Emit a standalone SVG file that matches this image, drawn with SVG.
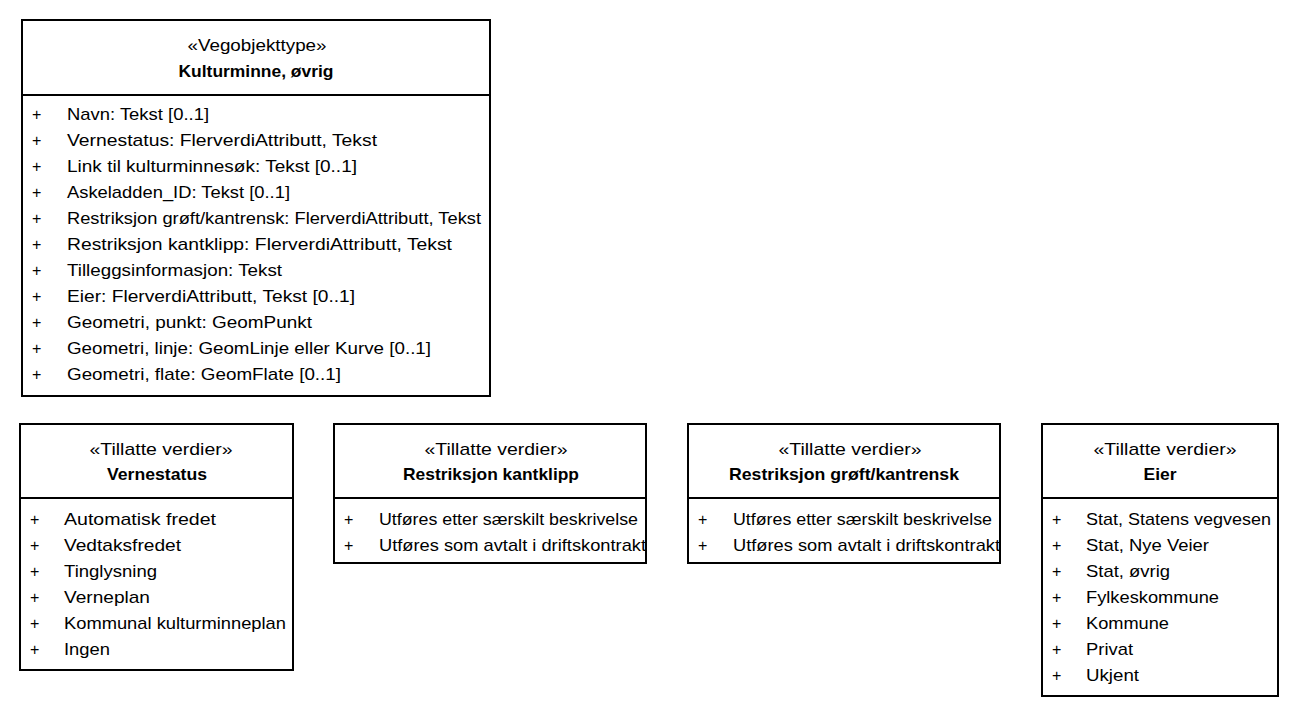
<svg xmlns="http://www.w3.org/2000/svg" width="1300" height="718" viewBox="0 0 1300 718">
<style>
rect.box{fill:#fff;stroke:#000;stroke-width:2}
line.div{stroke:#000;stroke-width:2}
text{font-family:"Liberation Sans",Arial,sans-serif;font-size:17px;fill:#000}
.p{font-size:16px}
.c{text-anchor:middle}
.b{font-weight:bold}
</style>
<rect width="1300" height="718" fill="#fff"/>
<g id="kulturminne">
<rect class="box" x="22" y="20" width="468" height="376"/>
<line class="div" x1="22" y1="95" x2="490" y2="95"/>
<text class="c" x="257" y="51" textLength="139" lengthAdjust="spacingAndGlyphs">«Vegobjekttype»</text>
<text class="c b" x="256" y="77" textLength="155" lengthAdjust="spacingAndGlyphs">Kulturminne, øvrig</text>
<text class="p" x="32" y="120">+</text><text x="67" y="120" textLength="142" lengthAdjust="spacingAndGlyphs">Navn: Tekst [0..1]</text>
<text class="p" x="32" y="146">+</text><text x="67" y="146" textLength="310" lengthAdjust="spacingAndGlyphs">Vernestatus: FlerverdiAttributt, Tekst</text>
<text class="p" x="32" y="172">+</text><text x="67" y="172" textLength="290" lengthAdjust="spacingAndGlyphs">Link til kulturminnesøk: Tekst [0..1]</text>
<text class="p" x="32" y="198">+</text><text x="67" y="198" textLength="223" lengthAdjust="spacingAndGlyphs">Askeladden_ID: Tekst [0..1]</text>
<text class="p" x="32" y="224">+</text><text x="67" y="224" textLength="414" lengthAdjust="spacingAndGlyphs">Restriksjon grøft/kantrensk: FlerverdiAttributt, Tekst</text>
<text class="p" x="32" y="250">+</text><text x="67" y="250" textLength="385" lengthAdjust="spacingAndGlyphs">Restriksjon kantklipp: FlerverdiAttributt, Tekst</text>
<text class="p" x="32" y="276">+</text><text x="67" y="276" textLength="215" lengthAdjust="spacingAndGlyphs">Tilleggsinformasjon: Tekst</text>
<text class="p" x="32" y="302">+</text><text x="67" y="302" textLength="288" lengthAdjust="spacingAndGlyphs">Eier: FlerverdiAttributt, Tekst [0..1]</text>
<text class="p" x="32" y="328">+</text><text x="67" y="328" textLength="245" lengthAdjust="spacingAndGlyphs">Geometri, punkt: GeomPunkt</text>
<text class="p" x="32" y="354">+</text><text x="67" y="354" textLength="364" lengthAdjust="spacingAndGlyphs">Geometri, linje: GeomLinje eller Kurve [0..1]</text>
<text class="p" x="32" y="380">+</text><text x="67" y="380" textLength="274" lengthAdjust="spacingAndGlyphs">Geometri, flate: GeomFlate [0..1]</text>
</g>
<g id="vernestatus">
<rect class="box" x="20" y="424" width="273" height="246"/>
<line class="div" x1="20" y1="498" x2="293" y2="498"/>
<text class="c" x="161" y="455" textLength="143" lengthAdjust="spacingAndGlyphs">«Tillatte verdier»</text>
<text class="c b" x="157" y="480" textLength="100" lengthAdjust="spacingAndGlyphs">Vernestatus</text>
<text class="p" x="30" y="525">+</text><text x="64" y="525" textLength="152" lengthAdjust="spacingAndGlyphs">Automatisk fredet</text>
<text class="p" x="30" y="551">+</text><text x="64" y="551" textLength="117" lengthAdjust="spacingAndGlyphs">Vedtaksfredet</text>
<text class="p" x="30" y="577">+</text><text x="64" y="577" textLength="93" lengthAdjust="spacingAndGlyphs">Tinglysning</text>
<text class="p" x="30" y="603">+</text><text x="64" y="603" textLength="86" lengthAdjust="spacingAndGlyphs">Verneplan</text>
<text class="p" x="30" y="629">+</text><text x="64" y="629" textLength="222" lengthAdjust="spacingAndGlyphs">Kommunal kulturminneplan</text>
<text class="p" x="30" y="655">+</text><text x="64" y="655" textLength="46" lengthAdjust="spacingAndGlyphs">Ingen</text>
</g>
<g id="kantklipp">
<rect class="box" x="334" y="424" width="312" height="139"/>
<line class="div" x1="334" y1="498" x2="646" y2="498"/>
<text class="c" x="496" y="455" textLength="143" lengthAdjust="spacingAndGlyphs">«Tillatte verdier»</text>
<text class="c b" x="491" y="480" textLength="176" lengthAdjust="spacingAndGlyphs">Restriksjon kantklipp</text>
<text class="p" x="344" y="525">+</text><text x="379" y="525" textLength="259" lengthAdjust="spacingAndGlyphs">Utføres etter særskilt beskrivelse</text>
<text class="p" x="344" y="551">+</text><text x="379" y="551" textLength="267" lengthAdjust="spacingAndGlyphs">Utføres som avtalt i driftskontrakt</text>
</g>
<g id="groft">
<rect class="box" x="688" y="424" width="312" height="139"/>
<line class="div" x1="688" y1="498" x2="1000" y2="498"/>
<text class="c" x="850" y="455" textLength="143" lengthAdjust="spacingAndGlyphs">«Tillatte verdier»</text>
<text class="c b" x="844" y="480" textLength="230" lengthAdjust="spacingAndGlyphs">Restriksjon grøft/kantrensk</text>
<text class="p" x="698" y="525">+</text><text x="733" y="525" textLength="259" lengthAdjust="spacingAndGlyphs">Utføres etter særskilt beskrivelse</text>
<text class="p" x="698" y="551">+</text><text x="733" y="551" textLength="267" lengthAdjust="spacingAndGlyphs">Utføres som avtalt i driftskontrakt</text>
</g>
<g id="eier">
<rect class="box" x="1042" y="424" width="236" height="272"/>
<line class="div" x1="1042" y1="498" x2="1278" y2="498"/>
<text class="c" x="1165" y="455" textLength="143" lengthAdjust="spacingAndGlyphs">«Tillatte verdier»</text>
<text class="c b" x="1160" y="480" textLength="33" lengthAdjust="spacingAndGlyphs">Eier</text>
<text class="p" x="1052" y="525">+</text><text x="1086" y="525" textLength="185" lengthAdjust="spacingAndGlyphs">Stat, Statens vegvesen</text>
<text class="p" x="1052" y="551">+</text><text x="1086" y="551" textLength="123" lengthAdjust="spacingAndGlyphs">Stat, Nye Veier</text>
<text class="p" x="1052" y="577">+</text><text x="1086" y="577" textLength="84" lengthAdjust="spacingAndGlyphs">Stat, øvrig</text>
<text class="p" x="1052" y="603">+</text><text x="1086" y="603" textLength="133" lengthAdjust="spacingAndGlyphs">Fylkeskommune</text>
<text class="p" x="1052" y="629">+</text><text x="1086" y="629" textLength="83" lengthAdjust="spacingAndGlyphs">Kommune</text>
<text class="p" x="1052" y="655">+</text><text x="1086" y="655" textLength="47" lengthAdjust="spacingAndGlyphs">Privat</text>
<text class="p" x="1052" y="681">+</text><text x="1086" y="681" textLength="53" lengthAdjust="spacingAndGlyphs">Ukjent</text>
</g>
<g id="connectors"></g>
</svg>
